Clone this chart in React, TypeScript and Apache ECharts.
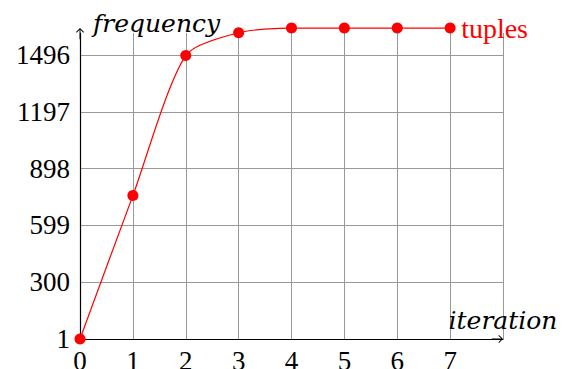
import React, { useEffect, useRef } from "react";
import * as echarts from "echarts";

const iterations = [0, 1, 2, 3, 4, 5, 6, 7];
const tuples = [1, 756, 1494, 1613, 1638, 1638, 1638, 1638];
const yTicks = [1, 300, 599, 898, 1197, 1496];
const seriesName = "tuples";
const xName = "iteration";
const yName = "frequency";

const ARROW = "path://M5,0 L10,5 L9,5.8 L5.6,2.2 L5.6,14 L4.4,14 L4.4,2.2 L1,5.8 L0,5 Z";

export default function App() {
  const ref = useRef<HTMLDivElement>(null);
  useEffect(() => {
    if (!ref.current) return;
    document.body.style.margin = "0";
    const chart = echarts.init(ref.current, null, { renderer: "svg" });
    const labelFont = { fontFamily: "Liberation Serif", fontSize: 27, color: "#000" };
    const nameFont = { fontFamily: "DejaVu Serif", fontStyle: "italic", fontSize: 25, color: "#000" };
    chart.setOption({
      animation: false,
      grid: { left: 80, right: 60, top: 33, bottom: 30, containLabel: false, outerBoundsMode: "none" },
      xAxis: {
        type: "value",
        min: 0,
        max: 8,
        interval: 1,
        name: xName,
        nameLocation: "end",
        nameGap: 0,
        nameTextStyle: { ...nameFont, align: "center", verticalAlign: "bottom", padding: [0, 0, 6, 0] },
        axisLine: {
          show: true,
          onZero: false,
          symbol: ["none", ARROW],
          symbolSize: [8, 11.2],
          symbolOffset: [0, -5.6],
          lineStyle: { color: "#000", width: 1.2 },
        },
        axisTick: { show: false },
        axisLabel: { ...labelFont, margin: 8, showMaxLabel: false, showMinLabel: true },
        splitLine: { show: true, showMinLine: false, showMaxLine: true, lineStyle: { color: "#999", width: 1 } },
      },
      yAxis: {
        type: "value",
        min: yTicks[0],
        max: 1612,
        interval: yTicks[1] - yTicks[0],
        name: yName,
        nameLocation: "end",
        nameGap: -3,
        nameTextStyle: { ...nameFont, align: "left", verticalAlign: "bottom", padding: [0, 0, 0, 13] },
        axisLine: {
          show: true,
          onZero: false,
          symbol: ["none", ARROW],
          symbolSize: [8, 11.2],
          symbolOffset: [0, -0.6],
          lineStyle: { color: "#000", width: 1.2 },
        },
        axisTick: { show: false },
        axisLabel: {
          ...labelFont,
          margin: 10,
          showMaxLabel: false,
          formatter: (v: number) => (yTicks.includes(v) ? String(v) : ""),
        },
        splitLine: { show: true, showMinLine: false, showMaxLine: false, lineStyle: { color: "#999", width: 1 } },
      },
      series: [
        {
          name: seriesName,
          type: "line",
          data: iterations.map((x, i) => [x, tuples[i]]),
          smooth: 0.25,
          clip: false,
          symbol: "circle",
          symbolSize: 11,
          itemStyle: { color: "#ff0000" },
          lineStyle: { color: "#ff0000", width: 1.2 },
          endLabel: {
            show: true,
            formatter: seriesName,
            color: "#ff0000",
            fontFamily: "Liberation Serif",
            fontSize: 28,
            distance: 11,
          },
          z: 5,
        },
      ],
    });
    return () => chart.dispose();
  }, []);
  return <div ref={ref} style={{ width: 563, height: 369 }} />;
}
